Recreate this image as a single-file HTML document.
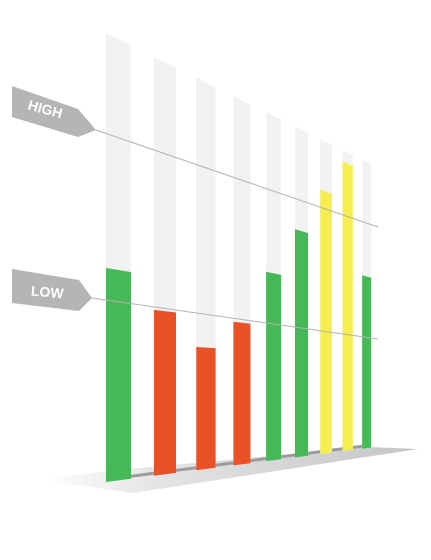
<!DOCTYPE html>
<html><head><meta charset="utf-8"><style>
html,body{margin:0;padding:0;background:#fff;width:431px;height:560px;overflow:hidden}
svg{display:block}
text{font-family:"Liberation Sans",sans-serif;font-weight:bold;fill:#fff}
</style></head><body>
<svg id="chart" width="431" height="560" viewBox="0 0 431 560">
<defs>
<linearGradient id="floorGrad" x1="0" y1="0" x2="1" y2="0">
<stop offset="0" stop-color="#ffffff"/>
<stop offset="0.3" stop-color="#e4e5e6"/>
<stop offset="1" stop-color="#c4c5c7"/>
</linearGradient>
</defs>
<polygon points="40,480 133,493 418,449 370,447 106,471" fill="url(#floorGrad)"/>
<g id="shadows"></g>
<g id="bars"></g>
<line x1="96" y1="130" x2="378" y2="227" stroke="#b3b3b3" stroke-width="1"/>
<line x1="92" y1="298" x2="378" y2="339" stroke="#b3b3b3" stroke-width="1"/>
<g>
<polygon points="12,86 78,109 96,130 78,137 12,117" fill="#b5b5b6"/>
<text x="27" y="114" font-size="14" transform="rotate(15 45 112)">HIGH</text>
</g>
<g>
<polygon points="12,269 79,280 92,298 79,311 12,303" fill="#b5b5b6"/>
<text x="31" y="297" font-size="14" transform="rotate(5 48 292)">LOW</text>
</g>
</svg>
<script>
const categories = ["b1","b2","b3","b4","b5","b6","b7","b8","b9"];
const values = [0.477, 0.396, 0.314, 0.389, 0.543, 0.69, 0.84, 0.963, 0.60];
const colors = ["#46b858","#e85226","#e85226","#e85226","#46b858","#46b858","#f6ee4f","#f6ee4f","#46b858"];

const NS = "http://www.w3.org/2000/svg";
const X0 = 106, D0 = 48, R = 0.88, W0 = 25, B0 = 482, GROUND = 0.13, H0 = 449, HD = 30;
function xLeft(i){ return X0 + D0 * (1 - Math.pow(R, i)) / (1 - R); }
function width(i){ return W0 * Math.pow(R, i); }
function baseY(x){ return B0 - GROUND * (x - X0); }
function fullH(i){ return H0 - HD * (1 - Math.pow(R, i)) / (1 - R); }

const barsG = document.getElementById('bars');
const shG = document.getElementById('shadows');
categories.forEach((c, i) => {
  const xl = xLeft(i), w = width(i), xr = xl + w;
  const bl = baseY(xl), br = baseY(xr);
  const H = fullH(i);
  const tl = bl - H, tr = tl + 0.5 * w;
  const Hr = br - tr;
  if (i < categories.length - 1) {
    const nx = xLeft(i + 1);
    const sh = document.createElementNS(NS, 'polygon');
    sh.setAttribute('points', `${xr},${br-4} ${nx},${baseY(nx)-4} ${nx},${baseY(nx)-1} ${xr},${br-1}`);
    sh.setAttribute('fill', '#9a9b9d');
    
    
    shG.appendChild(sh);
  }
  const bg = document.createElementNS(NS, 'polygon');
  bg.setAttribute('points', `${xl},${tl} ${xr},${tr} ${xr},${br} ${xl},${bl}`);
  bg.setAttribute('fill', '#f2f2f2');
  
  
  barsG.appendChild(bg);
  const v = values[i];
  const vl = bl - v * H, vr = br - v * Hr;
  const bar = document.createElementNS(NS, 'polygon');
  bar.setAttribute('points', `${xl},${vl} ${xr},${vr} ${xr},${br} ${xl},${bl}`);
  bar.setAttribute('fill', colors[i]);
  
  
  barsG.appendChild(bar);
});
</script>
</body></html>
